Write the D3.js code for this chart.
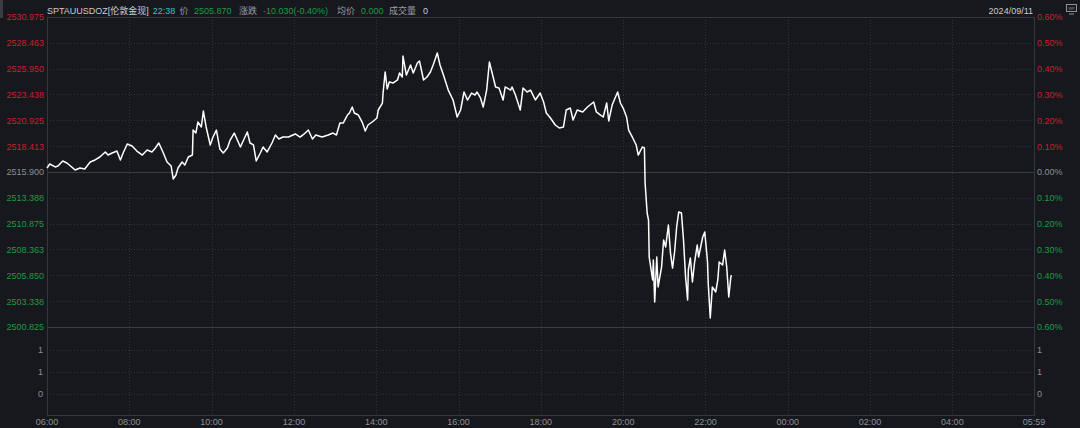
<!DOCTYPE html>
<html><head><meta charset="utf-8">
<script src="https://cdn.jsdelivr.net/npm/d3@7"></script>
<style>
html,body{margin:0;padding:0;background:#16181d;}
svg{display:block;}
text{font-family:"Liberation Sans","Noto Sans CJK SC",sans-serif;font-size:9px;}
</style></head>
<body>
<svg id="c" width="1080" height="428"></svg>
<script>
// ---- data ----
const prevClose = 2515.900;
const priceTicks = [2530.975, 2528.463, 2525.950, 2523.438, 2520.925, 2518.413, 2515.900, 2513.388, 2510.875, 2508.363, 2505.850, 2503.338, 2500.825];
const pctTicks = ["0.60%","0.50%","0.40%","0.30%","0.20%","0.10%","0.00%","0.10%","0.20%","0.30%","0.40%","0.50%","0.60%"];
const volTicks = ["1","1","0"];
const timeTicks = ["06:00","08:00","10:00","12:00","14:00","16:00","18:00","20:00","22:00","00:00","02:00","04:00","05:59"];
// minutes since 06:00
const minutes = [0,4,12,16,23,29,36,41,48,55,63,70,77,85,89,95,102,107,111,117,124,131,139,146,153,158,163,169,175,181,184,188,191,197,201,206,212,213,217,220,225,228,232,238,242,247,252,257,263,267,273,282,292,296,301,305,311,315,321,328,333,338,344,352,362,369,375,381,387,392,401,410,417,422,427,432,438,441,445,448,454,460,464,468,476,481,483,489,490,493,496,499,505,511,514,518,519,524,530,534,540,543,549,554,559,563,569,573,578,585,592,598,603,608,613,619,624,627,632,636,641,645,649,654,659,665,668,676,678,683,690,694,700,705,712,719,724,728,734,741,747,753,757,763,767,773,781,788,797,801,807,811,816,819,824,827,832,836,840,845,848,854,859,862,868,871,872,875,877,878,883,884,886,889,891,896,899,902,906,909,912,915,918,921,925,928,931,934,935,938,941,944,948,950,956,959,963,964,967,970,975,978,980,985,988,991,994,997,998];
const prices = [2516.29,2516.68,2516.39,2516.48,2516.97,2516.78,2516.39,2516.09,2516.29,2516.19,2516.87,2517.07,2517.36,2517.85,2517.55,2517.75,2517.94,2517.07,2517.75,2518.62,2518.43,2517.94,2517.55,2518.04,2517.85,2518.23,2518.72,2517.85,2516.87,2516.48,2515.22,2515.61,2516.29,2516.87,2516.58,2517.36,2517.55,2519.98,2519.69,2520.76,2520.28,2521.83,2520.28,2518.53,2519.30,2519.98,2518.14,2517.75,2518.23,2519.01,2519.69,2518.33,2519.79,2518.72,2518.53,2516.97,2517.75,2518.33,2517.85,2518.72,2519.50,2519.11,2519.30,2519.30,2519.60,2519.30,2519.60,2519.98,2519.11,2519.50,2519.30,2519.50,2519.69,2519.50,2520.67,2520.67,2521.44,2521.64,2522.22,2521.64,2521.44,2520.67,2519.89,2520.47,2520.86,2521.15,2521.93,2522.61,2523.58,2525.63,2523.97,2524.65,2524.56,2524.85,2525.53,2525.14,2527.18,2525.33,2526.31,2525.53,2526.50,2526.70,2524.85,2525.14,2525.63,2526.31,2527.47,2526.31,2525.33,2523.87,2522.90,2521.25,2521.93,2523.68,2522.90,2523.58,2523.39,2523.68,2523.10,2522.22,2523.87,2526.60,2525.53,2524.17,2524.07,2522.90,2524.17,2523.87,2524.17,2523.39,2521.93,2524.07,2523.68,2523.87,2522.90,2523.58,2522.71,2521.64,2521.15,2520.47,2520.18,2520.28,2521.93,2522.12,2520.96,2521.93,2521.74,2522.22,2522.71,2521.74,2521.44,2521.25,2522.61,2520.86,2522.42,2522.90,2523.68,2522.61,2522.12,2521.25,2519.98,2519.21,2518.53,2517.55,2518.33,2518.23,2514.83,2511.91,2511.23,2507.63,2505.40,2507.34,2503.26,2507.63,2504.72,2506.66,2509.29,2508.61,2510.75,2508.02,2506.56,2508.12,2510.55,2512.01,2511.91,2509.29,2505.69,2503.45,2506.37,2507.54,2505.20,2507.05,2508.80,2507.63,2509.58,2510.06,2507.15,2505.10,2501.70,2504.72,2504.23,2505.40,2507.15,2506.85,2508.31,2506.66,2503.74,2505.69,2505.87];
const headerTexts = ["SPTAUUSDOZ[伦敦金现]","22:38","价","2505.870","涨跌","-10.030(-0.40%)","均价","0.000","成交量","0"];
const headerColors = ["#c9cbcf","#3fbfc6","#9a9ca1","#1f9a45","#9a9ca1","#1f9a45","#9a9ca1","#1f9a45","#9a9ca1","#c9cbcf"];
const headerX = [47,150,179,194,239,263,337,361,389,423];
const dateLabel = "2024/09/11";

// ---- layout ----
const L = 47, R = 1034, T = 17, PB = 327, B = 415;
const RED = "#c4222d", GREEN = "#1f9a45", GRAY = "#8d9096";
const svg = d3.select("#c");
svg.append("rect").attr("width",1080).attr("height",428).attr("fill","#16181d");

const x = d3.scaleLinear().domain([0,1439]).range([L,R]);
const y = d3.scaleLinear().domain([priceTicks[priceTicks.length-1], priceTicks[0]]).range([PB,T]);
const yv = d3.scalePoint().domain(d3.range(volTicks.length)).range([350,394]);
const tickMin = timeTicks.map((s,i)=> i===timeTicks.length-1 ? 1439 : i*120);

// grid
const g = svg.append("g");
priceTicks.forEach((p,i)=>{
  const yy = Math.round(y(p))+0.5;
  const solid = (p===prevClose) || i===priceTicks.length-1;
  g.append("line").attr("x1",L).attr("x2",R).attr("y1",yy).attr("y2",yy)
   .attr("stroke", solid? "#3a3d43" : "#2f323a")
   .attr("stroke-dasharray", solid? null : "1,2").attr("stroke-width",1);
});
volTicks.forEach((v,i)=>{
  const yy = Math.round(yv(i))+0.5;
  g.append("line").attr("x1",L).attr("x2",R).attr("y1",yy).attr("y2",yy)
   .attr("stroke","#2f323a").attr("stroke-dasharray","1,2");
});
tickMin.slice(1,-1).forEach(m=>{
  const xx = Math.round(x(m))+0.5;
  g.append("line").attr("x1",xx).attr("x2",xx).attr("y1",T).attr("y2",B)
   .attr("stroke","#2f323a").attr("stroke-dasharray","1,2");
});
g.append("rect").attr("x",L+0.5).attr("y",T+0.5).attr("width",R-L).attr("height",B-T)
 .attr("fill","none").attr("stroke","#34373d");

// axes labels
const colorFor = (i)=> i<6 ? RED : (i===6 ? GRAY : GREEN);
const leftAx = svg.append("g").attr("transform",`translate(${L-3},0)`)
  .call(d3.axisLeft(y).tickValues(priceTicks).tickSize(0).tickFormat(d3.format(".3f")));
leftAx.select(".domain").remove();
leftAx.selectAll("text").attr("fill",(d,i)=>colorFor(i)).attr("x",0);
const rightAx = svg.append("g").attr("transform",`translate(${R+3},0)`)
  .call(d3.axisRight(y).tickValues(priceTicks).tickSize(0).tickFormat((d,i)=>pctTicks[i]));
rightAx.select(".domain").remove();
rightAx.selectAll("text").attr("fill",(d,i)=>colorFor(i)).attr("x",0);
svg.selectAll(".tick text").style("font-size","9px").style("font-family",'"Liberation Sans",sans-serif');

volTicks.forEach((v,i)=>{
  svg.append("text").attr("x",L-4).attr("y",yv(i)).attr("dy","0.35em").attr("text-anchor","end").attr("fill",GRAY).text(v);
  svg.append("text").attr("x",R+3).attr("y",yv(i)).attr("dy","0.35em").attr("fill",GRAY).text(v);
});

timeTicks.forEach((s,i)=>{
  svg.append("text").attr("x",x(tickMin[i])).attr("y",422).attr("dy","0.35em")
    .attr("text-anchor","middle").attr("fill",GRAY).text(s);
});

// price line
const pts = minutes.map((m,i)=>[m,prices[i]]);
svg.append("path").datum(pts)
  .attr("fill","none").attr("stroke","#ffffff").attr("stroke-width",1.5).attr("stroke-linejoin","round")
  .attr("d", d3.line().x(d=>x(d[0])).y(d=>y(d[1])));

// header (placed sequentially so nothing overlaps)
let cursor = 0;
headerTexts.forEach((t,i)=>{
  const xx = Math.max(headerX[i], cursor + 4);
  const el = svg.append("text").attr("x",xx).attr("y",11).attr("dy","0.35em").attr("fill",headerColors[i]).text(t);
  cursor = xx + el.node().getComputedTextLength();
});
svg.append("text").attr("x",R-1).attr("y",11).attr("dy","0.35em").attr("text-anchor","end").attr("fill","#c9cbcf").text(dateLabel);
const ic = svg.append("g").attr("transform","translate(1066,4)");
ic.append("rect").attr("x",0.5).attr("y",0.5).attr("width",10).attr("height",7).attr("fill","none").attr("stroke","#8d9096");
ic.append("line").attr("x1",3).attr("x2",8).attr("y1",10).attr("y2",10).attr("stroke","#8d9096");
ic.append("text").attr("x",5.5).attr("y",4.5).attr("dy","0.35em").attr("text-anchor","middle").attr("fill","#8d9096").style("font-size","4px").text("WP");
svg.append("rect").attr("x",0).attr("y",0).attr("width",3).attr("height",18).attr("fill","#3a3c42");
</script>
</body></html>
